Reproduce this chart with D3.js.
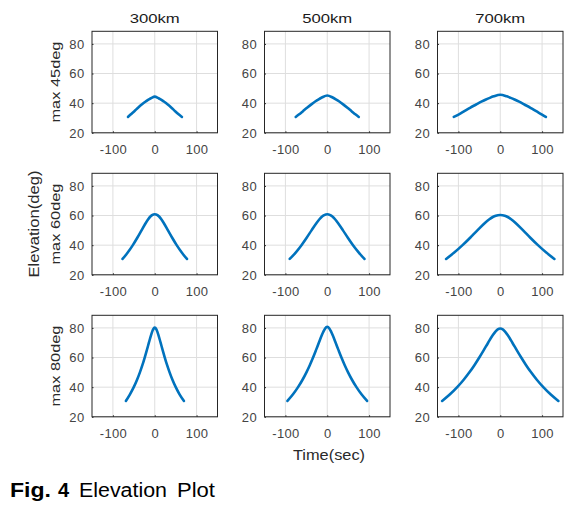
<!DOCTYPE html>
<html><head><meta charset="utf-8">
<script src="https://cdn.jsdelivr.net/npm/d3@7"></script>
<style>body{margin:0;background:#fff} svg{display:block;font-family:"Liberation Sans",Arial,sans-serif}</style>
</head><body><svg id="c" width="583" height="507"></svg>
<script>
// ---- data ----
const altitudes = ["300km", "500km", "700km"];
const maxLabels = ["max 45deg", "max 60deg", "max 80deg"];
const xTicks = [-100, 0, 100];
const yTicks = [20, 40, 60, 80];
const yAxisLabel = "Elevation(deg)";
const xAxisLabel = "Time(sec)";

// max 45deg
const time45_300 = [-64, -57.8, -48.7, -39.9, -30.4, -21.7, -12.9, -8.6, 0, 8.6, 12.9, 21.7, 30.4, 39.9, 48.7, 57.8, 65];
const elev45_300 = [30.7, 32.3, 34.6, 36.9, 39.2, 41.1, 42.8, 43.4, 44.4, 43.4, 42.8, 41.1, 39.2, 36.9, 34.6, 32.3, 30.7];
const time45_500 = [-75.4, -68.0, -58.1, -48.3, -38.0, -28.8, -20.5, -12.9, 0, 12.9, 20.5, 28.8, 38.0, 48.3, 58.1, 68.0, 75.4];
const elev45_500 = [30.7, 32.3, 34.6, 36.9, 39.2, 41.1, 42.6, 43.8, 45.2, 43.8, 42.6, 41.1, 39.2, 36.9, 34.6, 32.3, 30.7];
const time45_700 = [-111, -99.8, -85.9, -72.2, -57.7, -45.1, -34.1, -25.0, -15.6, 0, 15.6, 25.0, 34.1, 45.1, 57.7, 72.2, 85.9, 99.8, 109];
const elev45_700 = [30.7, 32.3, 34.6, 36.9, 39.1, 41.0, 42.5, 43.6, 44.6, 45.7, 44.6, 43.6, 42.5, 41.0, 39.1, 36.9, 34.6, 32.3, 30.7];
// max 60deg
const time60_300 = [-77, -64.6, -52.4, -41.7, -31.6, -21.5, -15.7, -9.8, -6.4, 0, 6.4, 9.8, 15.7, 21.5, 31.6, 41.7, 52.4, 64.6, 77];
const elev60_300 = [30.7, 35, 40, 45, 50, 55, 57.5, 59.5, 60.3, 60.9, 60.3, 59.5, 57.5, 55, 50, 45, 40, 35, 30.7];
const time60_500 = [-89.7, -75.5, -61.6, -49.2, -37.6, -25.6, -18.7, -11.6, -7.3, 0, 7.3, 11.6, 18.7, 25.6, 37.6, 49.2, 61.6, 75.5, 88.9];
const elev60_500 = [30.7, 35, 40, 45, 50, 55, 57.5, 59.5, 60.3, 60.9, 60.3, 59.5, 57.5, 55, 50, 45, 40, 35, 30.7];
const time60_700 = [-129.4, -110.0, -90.1, -71.9, -54.7, -36.7, -26.0, -17.8, -10.7, 0, 10.7, 17.8, 26.0, 36.7, 54.7, 71.9, 90.1, 110.0, 129.4];
const elev60_700 = [30.7, 35, 40, 45, 50, 55, 57.5, 59, 59.9, 60.4, 59.9, 59, 57.5, 55, 50, 45, 40, 35, 30.7];
// max 80deg
const time80_300 = [-69, -59.6, -50.2, -42.3, -35.5, -29.4, -24.0, -18.9, -14.0, -9.0, -6.1, -3.9, 0, 3.9, 6.1, 9.0, 14.0, 18.9, 24.0, 29.4, 35.5, 42.3, 50.2, 59.6, 69.8];
const elev80_300 = [30.7, 35, 40, 45, 50, 55, 60, 65, 70, 75, 77.5, 79, 80.2, 79, 77.5, 75, 70, 65, 60, 55, 50, 45, 40, 35, 30.7];
const time80_500 = [-95.2, -82.3, -69.8, -59.1, -49.8, -41.5, -33.9, -26.9, -20.1, -13.1, -9.2, -5.4, 0, 5.4, 9.2, 13.1, 20.1, 26.9, 33.9, 41.5, 49.8, 59.1, 69.8, 82.3, 95.2];
const elev80_500 = [30.7, 35, 40, 45, 50, 55, 60, 65, 70, 75, 77.5, 79.5, 80.7, 79.5, 77.5, 75, 70, 65, 60, 55, 50, 45, 40, 35, 30.7];
const time80_700 = [-138.9, -120.8, -102.9, -87.4, -73.7, -61.4, -50.1, -39.4, -29.0, -18.1, -11.5, -6.0, 0, 6.0, 11.5, 18.1, 29.0, 39.4, 50.1, 61.4, 73.7, 87.4, 102.9, 120.8, 138.9];
const elev80_700 = [30.7, 35, 40, 45, 50, 55, 60, 65, 70, 75, 77.5, 79, 79.6, 79, 77.5, 75, 70, 65, 60, 55, 50, 45, 40, 35, 30.7];

const panels = [
  {row: 0, col: 0, t: time45_300, e: elev45_300},
  {row: 0, col: 1, t: time45_500, e: elev45_500},
  {row: 0, col: 2, t: time45_700, e: elev45_700},
  {row: 1, col: 0, t: time60_300, e: elev60_300},
  {row: 1, col: 1, t: time60_500, e: elev60_500},
  {row: 1, col: 2, t: time60_700, e: elev60_700},
  {row: 2, col: 0, t: time80_300, e: elev80_300},
  {row: 2, col: 1, t: time80_500, e: elev80_500},
  {row: 2, col: 2, t: time80_700, e: elev80_700}
];

// ---- layout ----
const colLeft = [92, 264.5, 437.5];
const rowTop = [31.3, 173.3, 315.3];
const boxW = 125.5, boxH = 101.5;
const ink = "#262626";
const tickInk = "#444";

const svg = d3.select("#c");
const x = d3.scaleLinear().domain([-150, 150]).range([0, boxW]);
const y = d3.scaleLinear().domain([20, 88.5]).range([boxH, 0]);
const line = d3.line().x(d => x(d[0])).y(d => y(d[1])).curve(d3.curveMonotoneX);

panels.forEach(p => {
  const g = svg.append("g").attr("transform", `translate(${colLeft[p.col]},${rowTop[p.row]})`);
  // grid
  g.append("g").selectAll("line").data(xTicks).join("line")
    .attr("x1", d => x(d)).attr("x2", d => x(d)).attr("y1", 0).attr("y2", boxH)
    .attr("stroke", "#dedede").attr("stroke-width", 1);
  g.append("g").selectAll("line").data(yTicks).join("line")
    .attr("x1", 0).attr("x2", boxW).attr("y1", d => y(d)).attr("y2", d => y(d))
    .attr("stroke", "#dedede").attr("stroke-width", 1);
  // axes (labels + inward ticks)
  const xa = g.append("g").attr("transform", `translate(0,${boxH})`)
    .call(d3.axisBottom(x).tickValues(xTicks).tickSize(-1.5).tickPadding(0).tickFormat(d => String(d)));
  xa.select(".domain").remove();
  xa.selectAll("line").attr("stroke", ink);
  xa.selectAll("text").attr("y", 21.5).attr("dy", null).attr("fill", tickInk)
    .attr("font-size", 13).attr("letter-spacing", 0.35).attr("font-family", null);
  const ya = g.append("g")
    .call(d3.axisLeft(y).tickValues(yTicks).tickSize(-1.5).tickPadding(0).tickFormat(d => String(d)));
  ya.select(".domain").remove();
  ya.selectAll("line").attr("stroke", ink);
  ya.selectAll("text").attr("x", -7.5).attr("dy", "0.34em").attr("fill", tickInk)
    .attr("font-size", 13).attr("letter-spacing", 0.35).attr("font-family", null);
  // box
  g.append("rect").attr("x", 0).attr("y", 0).attr("width", boxW).attr("height", boxH)
    .attr("fill", "none").attr("stroke", ink).attr("stroke-width", 1);
  // curve
  g.append("path").datum(p.t.map((t, i) => [t, p.e[i]]))
    .attr("d", line).attr("fill", "none").attr("stroke", "#0072BD")
    .attr("stroke-width", 2.6).attr("stroke-linejoin", "round").attr("stroke-linecap", "round");
});

// column titles
altitudes.forEach((a, i) => {
  svg.append("text").attr("x", colLeft[i] + boxW / 2).attr("y", 23.3)
    .attr("text-anchor", "middle").attr("font-size", 13.5).attr("fill", "#1a1a1a")
    .attr("textLength", 50).attr("lengthAdjust", "spacingAndGlyphs").text(a);
});
// row labels
maxLabels.forEach((m, i) => {
  const cy = rowTop[i] + boxH / 2;
  svg.append("text").attr("transform", `translate(59.5,${cy}) rotate(-90)`)
    .attr("text-anchor", "middle").attr("font-size", 13.5).attr("fill", "#2a2a2a")
    .attr("textLength", 81).attr("lengthAdjust", "spacingAndGlyphs").text(m);
});
// shared labels
svg.append("text").attr("transform", `translate(38.5,${rowTop[1] + boxH / 2}) rotate(-90)`)
  .attr("text-anchor", "middle").attr("font-size", 15).attr("fill", "#2a2a2a")
  .attr("textLength", 107).attr("lengthAdjust", "spacingAndGlyphs").text(yAxisLabel);
svg.append("text").attr("x", 329).attr("y", 460)
  .attr("text-anchor", "middle").attr("font-size", 14.5).attr("fill", "#2a2a2a")
  .attr("textLength", 72).attr("lengthAdjust", "spacingAndGlyphs").text(xAxisLabel);

// caption
const cap = svg.append("g").attr("fill", "#000").attr("font-size", 20);
cap.append("text").attr("x", 10).attr("y", 497).attr("font-weight", "bold")
  .attr("textLength", 41).attr("lengthAdjust", "spacingAndGlyphs").text("Fig.");
cap.append("text").attr("x", 58).attr("y", 497).attr("font-weight", "bold").text("4");
cap.append("text").attr("x", 79).attr("y", 497)
  .attr("textLength", 88).attr("lengthAdjust", "spacingAndGlyphs").text("Elevation");
cap.append("text").attr("x", 177).attr("y", 497)
  .attr("textLength", 38).attr("lengthAdjust", "spacingAndGlyphs").text("Plot");
</script></body></html>
